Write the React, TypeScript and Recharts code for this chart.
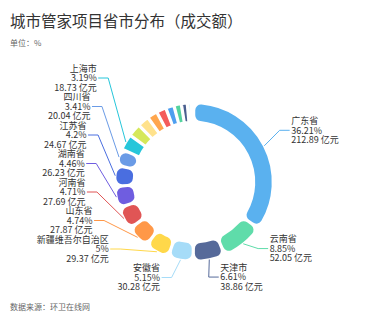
import { PieChart, Pie, Cell } from 'recharts';

const NAMES = [
  '广东省', '云南省', '天津市', '安徽省', '新疆维吾尔自治区', '山东省', '河南省', '湖南省', '江苏省', '四川省', '上海市',
  '其他', '其他', '其他', '其他', '其他', '其他', '其他', '其他', '其他',
];
const PERCENTS = [36.21, 8.85, 6.61, 5.15, 5, 4.74, 4.71, 4.46, 4.2, 3.41, 3.19, 2.6, 2.3, 2.0, 1.9, 1.6, 1.4, 1.1, 0.6, 0.37];
// amounts (亿元); only the labelled ones are known
const AMOUNTS = [212.89, 52.05, 38.86, 30.28, 29.37, 27.87, 27.69, 26.23, 24.67, 20.04, 18.73];
const PCT_TEXT = ['36.21', '8.85', '6.61', '5.15', '5', '4.74', '4.71', '4.46', '4.2', '3.41', '3.19'];

const COLORS = [
  '#5ab1ef', '#5fdcaa', '#566a9a', '#a6dcf8', '#ffd84a', '#ff9848', '#e05555', '#6f5de0', '#4a6ee0', '#6a9be6', '#26c6da',
  '#d6e85a', '#ffe28c', '#ffa64d', '#f45b5b', '#4e9ff0', '#53d39e', '#4a5f8f', '#a8e0fb', '#ffe9a0',
];

const CX = 189;
const CY = 177;
const OUTER = 79;
const INNER = 60;
const PAD = 0.6;
const GAP = 28.5;
const LABEL_R = 102;
const LINE_H = 9.3;

const chartData = PERCENTS.map((v, i) => ({ name: NAMES[i], value: v }));

// replicate the pie's own angle split so labels can be stacked like the original
function computeLayout() {
  const total = PERCENTS.reduce((a, b) => a + b, 0);
  const realTotal = 360 - PERCENTS.length * PAD;
  const mids: number[] = [];
  let prevEnd = 90;
  PERCENTS.forEach((v, i) => {
    const start = i === 0 ? 90 : prevEnd - PAD;
    const end = start - (v / total) * realTotal;
    mids.push((start + end) / 2);
    prevEnd = end;
  });

  const items = AMOUNTS.map((_, i) => {
    const rad = (mids[i] * Math.PI) / 180;
    const side = Math.cos(rad) >= 0 ? 1 : -1;
    return { i, side, nx: CX + LABEL_R * Math.cos(rad), ny: CY - LABEL_R * Math.sin(rad), y: 0, x: 0 };
  });

  [1, -1].forEach((side) => {
    const group = items.filter((it) => it.side === side).sort((a, b) => a.ny - b.ny);
    group.forEach((it) => (it.y = it.ny));
    for (let k = group.length - 2; k >= 0; k--) {
      group[k].y = Math.min(group[k].y, group[k + 1].y - GAP);
    }
    group.forEach((it) => {
      if (Math.abs(it.y - it.ny) < 0.5) {
        it.x = it.nx;
      } else {
        const dy = it.y - CY;
        const b = dy < 0 ? 200 : 107;
        it.x = CX + side * 93 * Math.sqrt(Math.max(0, 1 - (dy / b) ** 2));
      }
    });
  });

  const map: Record<number, { x: number; y: number; side: number }> = {};
  items.forEach((it) => (map[it.i] = { x: it.x, y: it.y, side: it.side }));
  return map;
}

const LAYOUT = computeLayout();

const renderLabel = (props: any) => {
  const { index, midAngle, cx, cy, outerRadius } = props;
  const lay = LAYOUT[index];
  if (!lay) return null;
  const rad = (midAngle * Math.PI) / 180;
  const sx = cx + outerRadius * Math.cos(rad);
  const sy = cy - outerRadius * Math.sin(rad);
  const ex = lay.x + lay.side * 10;
  const tx = ex + lay.side * 1.5;
  const anchor = lay.side > 0 ? 'start' : 'end';
  const lines = [NAMES[index], `${PCT_TEXT[index]}%`, `${AMOUNTS[index].toFixed(2)} 亿元`];
  return (
    <g key={`lab-${index}`}>
      <polyline
        points={`${sx},${sy} ${lay.x},${lay.y} ${ex},${lay.y}`}
        fill="none"
        stroke={COLORS[index]}
        strokeWidth={1}
      />
      {lines.map((t, k) => (
        <text
          key={k}
          x={tx}
          y={lay.y + (k - 1) * LINE_H + 3.2}
          textAnchor={anchor}
          fontSize={9}
          fill="#333"
          fontFamily="'Noto Sans CJK SC', 'Noto Sans', sans-serif"
        >
          {t}
        </text>
      ))}
    </g>
  );
};

export default function App() {
  const font = "'Noto Sans CJK SC', 'Noto Sans', sans-serif";
  return (
    <div style={{ position: 'absolute', left: 0, top: 0, width: 378, height: 321, background: '#fff', fontFamily: font }}>
      <div style={{ position: 'absolute', left: 10, top: 10, fontSize: 15.5, color: '#333', lineHeight: '20px' }}>
        城市管家项目省市分布（成交额）
      </div>
      <div style={{ position: 'absolute', left: 10, top: 37, fontSize: 8, color: '#666', lineHeight: '12px' }}>
        单位：%
      </div>
      <div style={{ position: 'absolute', left: 10, top: 301, fontSize: 8, color: '#666', lineHeight: '12px' }}>
        数据来源：环卫在线网
      </div>
      <PieChart width={378} height={321} style={{ position: 'absolute', left: 0, top: 0 }}>
        <Pie
          data={chartData}
          dataKey="value"
          cx={CX}
          cy={CY}
          innerRadius={INNER}
          outerRadius={OUTER}
          startAngle={90}
          endAngle={-270}
          paddingAngle={PAD}
          cornerRadius={7}
          stroke="#fff"
          strokeWidth={2.5}
          label={renderLabel}
          labelLine={false}
          isAnimationActive={false}
        >
          {chartData.map((_, i) => (
            <Cell key={`cell-${i}`} fill={COLORS[i]} />
          ))}
        </Pie>
      </PieChart>
    </div>
  );
}
